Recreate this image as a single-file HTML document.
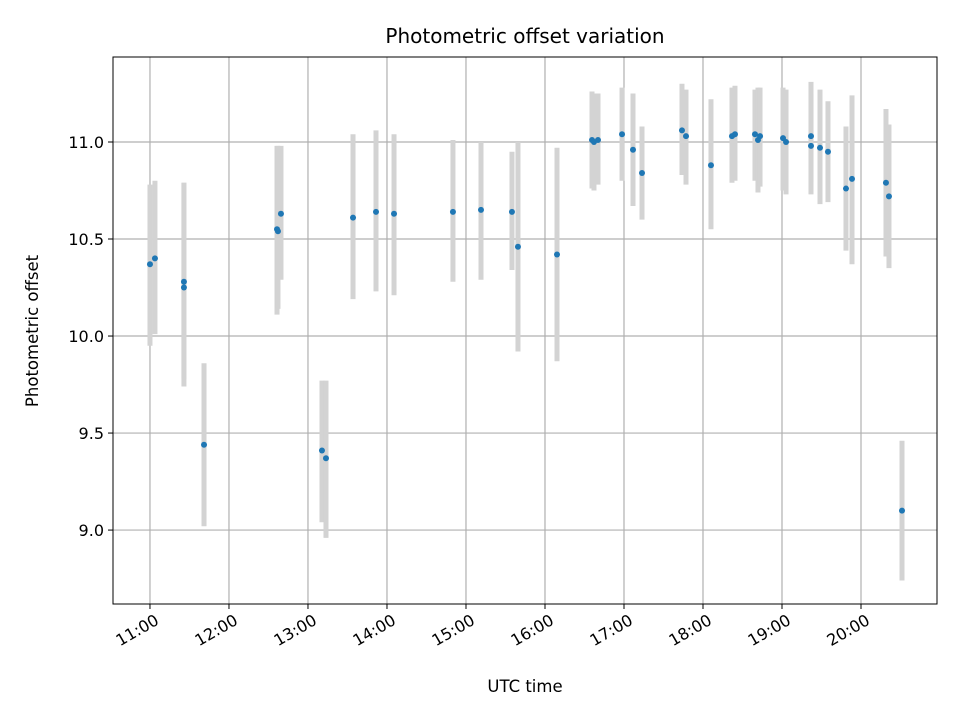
<!DOCTYPE html>
<html><head><meta charset="utf-8"><style>
body{margin:0;background:#fff;font-family:"DejaVu Sans","Liberation Sans",sans-serif}
svg text{font-family:"DejaVu Sans","Liberation Sans",sans-serif;fill:#000}
</style></head><body>
<svg id="chart" width="960" height="720" xmlns="http://www.w3.org/2000/svg">
<rect x="0" y="0" width="960" height="720" fill="#fff"/>
<g id="grid"></g>
<g id="bars"></g>
<g id="pts"></g>
<g id="axes"></g>
<text x="525" y="43" text-anchor="middle" font-size="20">Photometric offset variation</text>
<text x="525" y="692" text-anchor="middle" font-size="16.5">UTC time</text>
<text x="38" y="331" text-anchor="middle" font-size="16.5" transform="rotate(-90 38 331)">Photometric offset</text>
</svg>
<script>
const times=[11.0,11.063,11.43,11.43,11.684,12.608,12.62,12.658,13.177,13.228,13.57,13.861,14.089,14.835,15.19,15.582,15.658,16.152,16.595,16.62,16.671,16.975,17.114,17.228,17.734,17.785,18.101,18.367,18.405,18.658,18.696,18.722,19.013,19.051,19.367,19.367,19.481,19.582,19.81,19.886,20.316,20.354,20.519];
const values=[10.37,10.40,10.28,10.25,9.44,10.55,10.54,10.63,9.41,9.37,10.61,10.64,10.63,10.64,10.65,10.64,10.46,10.42,11.01,11.00,11.01,11.04,10.96,10.84,11.06,11.03,10.88,11.03,11.04,11.04,11.01,11.03,11.02,11.00,11.03,10.98,10.97,10.95,10.76,10.81,10.79,10.72,9.10];
const lows=[9.95,10.01,9.78,9.74,9.02,10.11,10.14,10.29,9.04,8.96,10.19,10.23,10.21,10.28,10.29,10.34,9.92,9.87,10.76,10.75,10.78,10.80,10.67,10.60,10.83,10.78,10.55,10.79,10.80,10.80,10.74,10.77,10.75,10.73,10.79,10.73,10.68,10.69,10.44,10.37,10.41,10.35,8.74];
const highs=[10.78,10.80,10.79,10.79,9.86,10.98,10.98,10.98,9.77,9.77,11.04,11.06,11.04,11.01,11.00,10.95,11.00,10.97,11.26,11.25,11.25,11.28,11.25,11.08,11.30,11.27,11.22,11.28,11.29,11.27,11.28,11.28,11.28,11.27,11.31,11.25,11.27,11.21,11.08,11.24,11.17,11.09,9.46];
const xTicks=[11,12,13,14,15,16,17,18,19,20];
const xTickLabels=["11:00","12:00","13:00","14:00","15:00","16:00","17:00","18:00","19:00","20:00"];
const yTicks=[9.0,9.5,10.0,10.5,11.0];
const yTickLabels=["9.0","9.5","10.0","10.5","11.0"];
const L=113,R=937,T=57,B=604;
const xMin=10.532,xMax=20.962,yMin=8.619,yMax=11.438;
const X=v=>L+(v-xMin)/(xMax-xMin)*(R-L);
const Y=v=>B-(v-yMin)/(yMax-yMin)*(B-T);
const NS="http://www.w3.org/2000/svg";
function mk(tag,attrs,parent){const e=document.createElementNS(NS,tag);for(const k in attrs)e.setAttribute(k,attrs[k]);parent.appendChild(e);return e;}
const grid=document.getElementById('grid'),bars=document.getElementById('bars'),pts=document.getElementById('pts'),axes=document.getElementById('axes');
xTicks.forEach((t,i)=>{
  const x=X(t);
  const g=mk('line',{x1:x,x2:x,y1:T,y2:B,stroke:'#b0b0b0','stroke-width':1.2},grid);
  
  
  const tk=mk('line',{x1:x,x2:x,y1:B,y2:B+5,stroke:'#000','stroke-width':1},axes);
  
  
  const ax=x+4, ay=B+9;
  const tx=mk('text',{x:ax,y:ay+12,'text-anchor':'end','font-size':16,transform:`rotate(-30 ${ax} ${ay})`},axes);
  tx.textContent=xTickLabels[i];
  
  
});
yTicks.forEach((t,i)=>{
  const y=Y(t);
  const g=mk('line',{x1:L,x2:R,y1:y,y2:y,stroke:'#b0b0b0','stroke-width':1.2},grid);
  
  
  const tk=mk('line',{x1:L-5,x2:L,y1:y,y2:y,stroke:'#000','stroke-width':1},axes);
  
  
  const tx=mk('text',{x:L-9,y:y+6,'text-anchor':'end','font-size':16},axes);
  tx.textContent=yTickLabels[i];
  
  
});
const frame=mk('rect',{x:L,y:T,width:R-L,height:B-T,fill:'none',stroke:'#000','stroke-width':1},axes);


times.forEach((t,i)=>{
  const x=X(t);
  const b=mk('line',{x1:x,x2:x,y1:Y(lows[i]),y2:Y(highs[i]),stroke:'#d3d3d3','stroke-width':5},bars);
  
  
  const c=mk('circle',{cx:x,cy:Y(values[i]),r:3,fill:'#1f77b4'},pts);
  
  
});
</script>
</body></html>
